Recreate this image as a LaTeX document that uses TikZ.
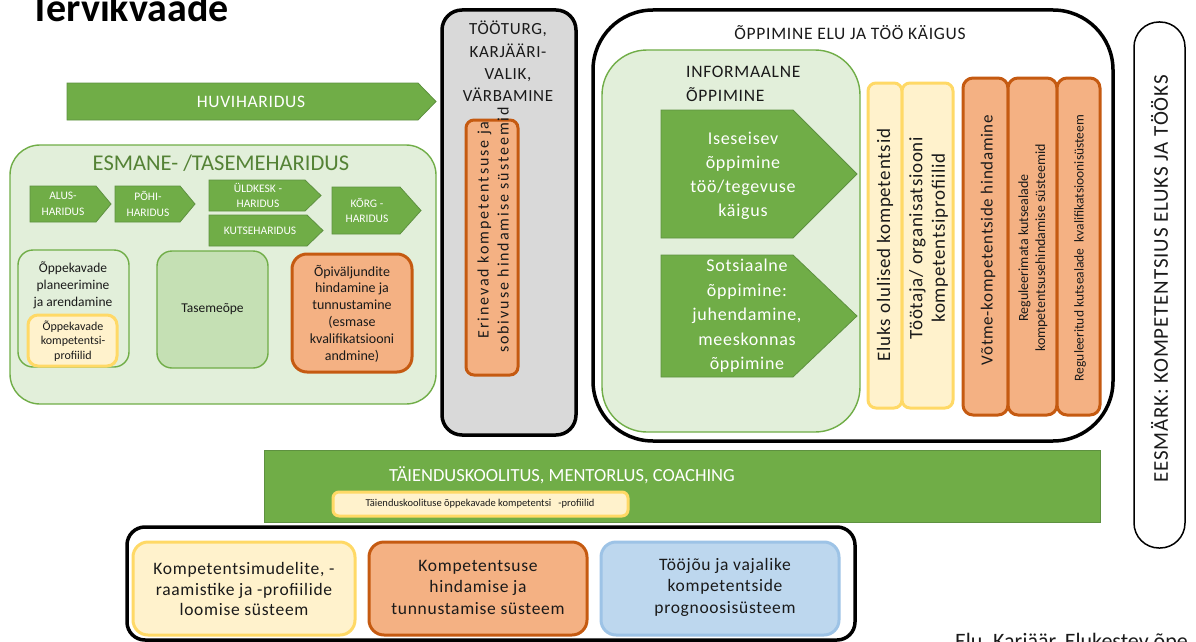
\documentclass[tikz,border=0pt]{standalone}
\usepackage{fontspec}
\setmainfont{Carlito}
\newfontfamily\wfont[LetterSpace=4]{Carlito}
\newfontfamily\wwfont[LetterSpace=12]{Carlito}

\definecolor{grn}{HTML}{70AD47}
\definecolor{grnedge}{HTML}{5E9140}
\definecolor{grntxt}{HTML}{548235}
\definecolor{lgrn}{HTML}{E2EFDA}
\definecolor{mgrn}{HTML}{C5E0B4}
\definecolor{org}{HTML}{F4B183}
\definecolor{orgdk}{HTML}{C55A11}
\definecolor{ylw}{HTML}{FFF2CC}
\definecolor{ylwdk}{HTML}{FFD966}
\definecolor{blu}{HTML}{BDD7EE}
\definecolor{bludk}{HTML}{9DC3E6}
\definecolor{gry}{HTML}{D9D9D9}
\definecolor{ink}{HTML}{1A1A1A}

\newcommand\fsz[2]{\fontsize{#1}{#2}\selectfont}
% rectangular area node: name, style, x1, y1, x2, y2
\newcommand\areanode[6]{%
  \node[#2, minimum width={#5-#3}, minimum height={#6-#4}] (#1)
    at ({(#3+#5)/2},{(#4+#6)/2}) {};}
% arrow-shaped band: x1, y1, x2 (tip), y2, shoulder x
\newcommand\chevron[5]{%
  \draw[arrowshape] (#1,#2) -- (#5,#2) -- (#3,{(#2+#4)/2}) -- (#5,#4) -- (#1,#4) -- cycle;}

\tikzset{
  arrowshape/.style={fill=grn, draw=grnedge, line width=0.8pt},
  area/.style={rectangle, inner sep=0pt},
  greenbox/.style={area, fill=lgrn, draw=grn, line width=1.4pt, rounded corners=#1},
  midgreenbox/.style={area, fill=mgrn, draw=grn, line width=1.4pt, rounded corners=#1},
  orangebox/.style={area, fill=org, draw=orgdk, line width=3pt, rounded corners=#1},
  yellowbox/.style={area, fill=ylw, draw=ylwdk, line width=3pt, rounded corners=#1},
  bluebox/.style={area, fill=blu, draw=bludk, line width=3pt, rounded corners=#1},
  blackbox/.style={area, fill=#1, draw=black, line width=3.5pt, rounded corners=20pt},
  wlbl/.style={inner sep=0pt, align=center, text=white},
  lbl/.style={inner sep=0pt, align=center, text=ink},
}

\begin{document}
\begin{tikzpicture}[x=1pt,y=-1pt]
\useasboundingbox (0,0) rectangle (1196,642);
\clip (0,0) rectangle (1196,642);

% heading
\node[anchor=base west, inner sep=0pt, font=\fsz{40}{44}\bfseries] (title) at (30,22) {Tervikvaade};

% hobby education band
\chevron{67}{83}{436}{120}{418}
\node[wlbl, font=\wfont\fsz{17.5}{20}] (huvi) at (251,101.5) {HUVIHARIDUS};

% primary / level education
\areanode{esmane}{greenbox=30pt}{10}{145}{436}{404}
\node[lbl, text=grntxt, font=\fsz{22.5}{26}] (esmanet) at (221,163) {ESMANE- /TASEMEHARIDUS};

\chevron{30}{186}{111}{222}{96}
\node[wlbl, font=\fsz{11.5}{15.5}] (alus) at (63,204) {ALUS-\\HARIDUS};
\chevron{115}{186}{195}{222}{180}
\node[wlbl, font=\fsz{11.5}{15.5}] (pohi) at (148,204) {PÕHI-\\HARIDUS};
\chevron{209}{180}{321}{211}{305}
\node[wlbl, font=\fsz{11.5}{15.5}] (yld) at (258,195.5) {ÜLDKESK -\\HARIDUS};
\chevron{209}{215}{323}{246}{307}
\node[wlbl, font=\fsz{11.5}{15.5}] (kutse) at (260,230.5) {KUTSEHARIDUS};
\chevron{332}{187}{421}{234}{400}
\node[wlbl, font=\fsz{11.5}{15.5}] (korg) at (367,210.5) {KÕRG -\\HARIDUS};

\areanode{plan}{greenbox=15pt}{18}{250}{129}{367}
\node[lbl, font=\fsz{13.5}{17}] (plant) at (73,285) {Õppekavade\\planeerimine\\ja arendamine};
\areanode{profiil}{yellowbox=10pt}{28}{315}{117}{366}
\node[lbl, font=\fsz{12}{14.5}] (profiilt) at (73,341) {Õppekavade\\kompetentsi-\\profiilid};

\areanode{tase}{midgreenbox=15pt}{157}{251}{268}{368}
\node[lbl, font=\fsz{13.5}{17}] (taset) at (tase) {Tasemeõpe};

\areanode{opiv}{orangebox=15pt}{292}{254}{412}{372}
\node[lbl, font=\fsz{14}{16.8}] (opivt) at (352,313.5) {Õpiväljundite\\hindamine ja\\tunnustamine\\(esmase\\kvalifikatsiooni\\andmine)};

% labour market
\areanode{turg}{blackbox=gry}{442}{10}{576}{435}
\node[lbl, font=\wfont\fsz{17}{22.3}] (turgt) at (508,61.5) {TÖÖTURG,\\KARJÄÄRI-\\VALIK,\\VÄRBAMINE};
\areanode{sobiv}{orangebox=8pt}{466}{120}{518}{375}
\node[lbl, rotate=90, font=\wwfont\fsz{16}{20}] (sobivt) at (493,230) {Erinevad kompetentsuse ja\\sobivuse hindamise süsteemid};

% learning during life and work
\areanode{elu}{blackbox=white, rounded corners=60pt}{593}{10}{1113}{441}
\node[lbl, font=\wfont\fsz{17.5}{20}] (elut) at (850,33) {ÕPPIMINE ELU JA TÖÖ KÄIGUS};
\areanode{inform}{greenbox=45pt}{602}{50}{860}{432}
\node[lbl, align=left, anchor=west, font=\wfont\fsz{17.5}{24}] (informt) at (686,84) {INFORMAALNE\\ÕPPIMINE};

\chevron{661}{110}{857}{238}{793}
\node[wlbl, font=\wfont\fsz{18}{24}] (isesei) at (743,176) {Iseseisev\\õppimine\\töö/tegevuse\\käigus};
\chevron{661}{255}{857}{377}{793}
\node[wlbl, font=\wfont\fsz{18}{24.5}] (sots) at (747,316) {Sotsiaalne\\õppimine:\\juhendamine,\\meeskonnas\\õppimine};

\areanode{eluks}{yellowbox=8pt}{868}{83}{902}{408}
\node[lbl, rotate=90, font=\wfont\fsz{19}{22}] (eluksT) at (885,245) {Eluks olulised kompetentsid};
\areanode{tootaja}{yellowbox=8pt}{902}{83}{953}{408}
\node[lbl, rotate=90, font=\wfont\fsz{19}{22.5}] (tootajat) at (928.5,238) {Töötaja/ organisatsiooni\\kompetentsiprofiilid};

\areanode{votme}{orangebox=10pt}{963}{78}{1008}{415}
\node[lbl, rotate=90, font=\wfont\fsz{17}{20}] (votmet) at (988,240) {Võtme-kompetentside hindamine};
\areanode{regm}{orangebox=10pt}{1008}{78}{1057}{415}
\node[lbl, rotate=90, font=\fsz{14}{17}] (regmt) at (1033,248) {Reguleerimata kutsealade\\kompetentsusehindamise süsteemid};
\areanode{regt}{orangebox=10pt}{1057}{78}{1100}{415}
\node[lbl, rotate=90, font=\fsz{13.5}{17}] (regtt) at (1080,248) {Reguleeritud kutsealade\ \ kvalifikatsioonisüsteem};

% goal
\node[area, draw=black, line width=1.5pt, fill=white, rounded corners=25pt,
      minimum width=51, minimum height=526] (goal) at (1159.5,285) {};
\node[lbl, rotate=90, font=\wfont\fsz{21}{24}] (goalt) at (1159.5,279) {EESMÄRK: KOMPETENTSIUS ELUKS JA TÖÖKS};

% further training
\areanode{taiend}{area, fill=grn, draw=grnedge, line width=0.8pt}{264}{450}{1100}{522}
\node[wlbl, font=\fsz{18.5}{22}] (taiendt) at (562,475) {TÄIENDUSKOOLITUS, MENTORLUS, COACHING};
\areanode{taiendp}{yellowbox=6pt}{333}{492}{628}{516}
\node[lbl, font=\fsz{10.5}{13}] (taiendpt) at (480,504) {Täienduskoolituse õppekavade kompetentsi\ \ \ -profiilid};

% supporting systems
\areanode{tugi}{blackbox=white, rounded corners=18pt}{127}{527}{855}{640}
\areanode{mudel}{yellowbox=15pt}{133}{542}{355}{635}
\node[lbl, font=\wfont\fsz{17.5}{20.5}] (mudelt) at (244,589) {Kompetentsimudelite, -\\raamistike ja -profiilide\\loomise süsteem};
\areanode{hind}{orangebox=15pt}{369}{542}{587}{635}
\node[lbl, font=\wfont\fsz{17.5}{21.5}] (hindt) at (478,587) {Kompetentsuse\\hindamise ja\\tunnustamise süsteem};
\areanode{progn}{bluebox=15pt}{601}{542}{839}{635}
\node[lbl, font=\wfont\fsz{17.5}{21.5}] (prognt) at (725,587) {Tööjõu ja vajalike\\kompetentside\\prognoosisüsteem};

% source line, cut by the lower edge
\node[anchor=base west, inner sep=0pt, font=\fsz{22}{26}, text=ink] (allikas) at (955,648) {Elu, Karjäär, Elukestev õpe};
\end{tikzpicture}
\end{document}
